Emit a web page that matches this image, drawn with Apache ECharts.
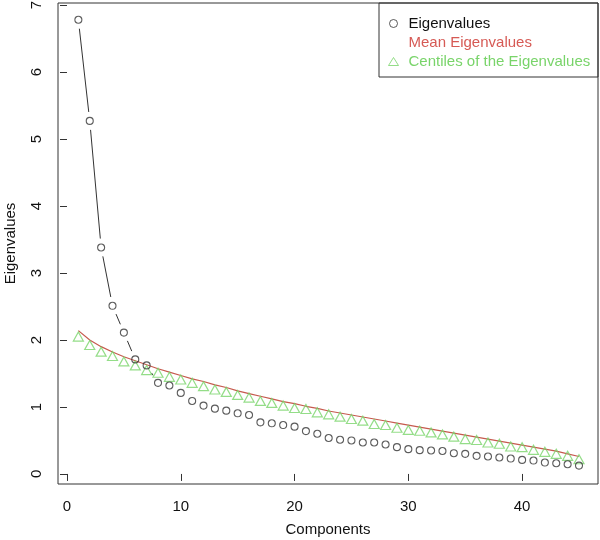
<!DOCTYPE html>
<html>
<head>
<meta charset="utf-8">
<script src="https://cdn.jsdelivr.net/npm/echarts@6/dist/echarts.min.js"></script>
<style>html,body{margin:0;padding:0;background:#fff}#c{width:600px;height:540px}</style>
</head>
<body>
<div id="c"></div>
<script>
var components = [1,2,3,4,5,6,7,8,9,10,11,12,13,14,15,16,17,18,19,20,21,22,23,24,25,26,27,28,29,30,31,32,33,34,35,36,37,38,39,40,41,42,43,44,45];
var eigenvalues = [6.78,5.27,3.38,2.51,2.11,1.71,1.62,1.36,1.32,1.21,1.09,1.02,0.975,0.945,0.905,0.88,0.77,0.756,0.73,0.706,0.64,0.60,0.537,0.51,0.50,0.47,0.47,0.44,0.40,0.37,0.355,0.35,0.343,0.31,0.30,0.27,0.26,0.245,0.23,0.21,0.20,0.17,0.16,0.145,0.125];
var meanEigenvalues = [2.14,2.00,1.90,1.82,1.75,1.69,1.63,1.57,1.52,1.47,1.42,1.38,1.33,1.29,1.24,1.20,1.16,1.12,1.08,1.05,1.01,0.98,0.94,0.91,0.88,0.85,0.82,0.79,0.76,0.73,0.70,0.67,0.64,0.61,0.58,0.55,0.52,0.49,0.46,0.43,0.40,0.37,0.34,0.30,0.26];
var centiles = [2.05,1.925,1.825,1.76,1.68,1.62,1.55,1.51,1.45,1.41,1.36,1.31,1.26,1.225,1.18,1.14,1.09,1.06,1.02,0.985,0.97,0.92,0.89,0.855,0.82,0.795,0.746,0.73,0.69,0.657,0.645,0.62,0.59,0.557,0.52,0.507,0.47,0.45,0.41,0.40,0.36,0.33,0.30,0.27,0.22];
var xTicks = [0,10,20,30,40];
var yTicks = [0,1,2,3,4,5,6,7];

function pairs(vals){ return components.map(function(c,i){ return [c, vals[i]]; }); }

var FONT = 'Liberation Sans, Arial, sans-serif';
var GAP = 9;
var eigPairs = pairs(eigenvalues);
// segments between consecutive points, drawn with gaps around the points (like R type "b")
var segData = eigPairs.slice(0, -1).map(function(p, i){ return [p[0], p[1], eigPairs[i+1][0], eigPairs[i+1][1]]; });

var chart = echarts.init(document.getElementById('c'), null, {renderer:'canvas'});
chart.setOption({
  animation: false,
  backgroundColor: '#fff',
  grid: {left: 58, right: 2, top: 3, bottom: 56, show: true, borderColor: '#333', borderWidth: 1, backgroundColor: 'transparent', containLabel: false, outerBoundsMode: 'none'},
  legend: {
    left: 379, top: 16, orient: 'vertical', padding: [0, 8, 0, 9],
    itemWidth: 10, itemHeight: 8, itemGap: 4,
    textStyle: {fontFamily: FONT, fontSize: 15, padding: [0, 0, 0, 5]},
    selectedMode: false,
    data: [
      {name: 'Eigenvalues', icon: 'circle', itemStyle: {color: 'rgba(0,0,0,0)', borderColor: '#333', borderWidth: 1}, textStyle: {color: '#111'}},
      {name: 'Mean Eigenvalues', icon: 'rect', itemStyle: {opacity: 0}, textStyle: {color: '#d65a55'}},
      {name: 'Centiles of the Eigenvalues', icon: 'triangle', itemStyle: {color: 'rgba(0,0,0,0)', borderColor: '#79d46a', borderWidth: 1}, textStyle: {color: '#79d46a'}}
    ]
  },
  graphic: [
    {type: 'rect', shape: {x: 379, y: 3, width: 219, height: 74}, style: {fill: 'none', stroke: '#333', lineWidth: 1}, z: 10}
  ],
  xAxis: {
    type: 'value', min: -0.79, max: 46.67,
    name: 'Components', nameLocation: 'middle', nameGap: 38,
    nameTextStyle: {fontFamily: FONT, fontSize: 15, color: '#111'},
    axisLine: {show: false}, splitLine: {show: false},
    axisTick: {show: true, length: 7, inside: false, customValues: xTicks, lineStyle: {color: '#333'}},
    axisLabel: {customValues: xTicks, fontFamily: FONT, fontSize: 15, color: '#111', margin: 15}
  },
  yAxis: {
    type: 'value', min: -0.15, max: 7.03,
    name: 'Eigenvalues', nameLocation: 'middle', nameGap: 40, nameRotate: 90,
    nameTextStyle: {fontFamily: FONT, fontSize: 15, color: '#111'},
    axisLine: {show: false}, splitLine: {show: false},
    axisTick: {show: true, length: 7, customValues: yTicks, lineStyle: {color: '#333'}},
    axisLabel: {customValues: yTicks, rotate: 90, fontFamily: FONT, fontSize: 15, color: '#111', margin: 14}
  },
  series: [
    {
      name: 'eigLine', type: 'custom', data: segData, silent: true, z: 1,
      encode: {x: [0, 2], y: [1, 3]},
      renderItem: function(params, api){
        var a = api.coord([api.value(0), api.value(1)]);
        var b = api.coord([api.value(2), api.value(3)]);
        var dx = b[0] - a[0], dy = b[1] - a[1];
        var len = Math.sqrt(dx*dx + dy*dy);
        if (len <= 2 * GAP) return null;
        var ux = dx / len, uy = dy / len;
        return {
          type: 'line',
          shape: {x1: a[0] + ux*GAP, y1: a[1] + uy*GAP, x2: b[0] - ux*GAP, y2: b[1] - uy*GAP},
          style: {stroke: '#333', lineWidth: 1}
        };
      }
    },
    {name: 'Mean Eigenvalues', type: 'line', data: pairs(meanEigenvalues), showSymbol: false, symbol: 'none', lineStyle: {color: '#c65a4e', width: 1.2}, z: 3},
    {name: 'Centiles of the Eigenvalues', type: 'scatter', data: pairs(centiles), symbol: 'triangle', symbolSize: [10, 9], itemStyle: {color: 'rgba(0,0,0,0)', borderColor: '#79d46a', borderWidth: 1.2}, z: 4},
    {name: 'Eigenvalues', type: 'scatter', data: eigPairs, symbol: 'circle', symbolSize: 7, itemStyle: {color: 'rgba(0,0,0,0)', borderColor: '#333', borderWidth: 1.1}, z: 5}
  ]
});
</script>
</body>
</html>
